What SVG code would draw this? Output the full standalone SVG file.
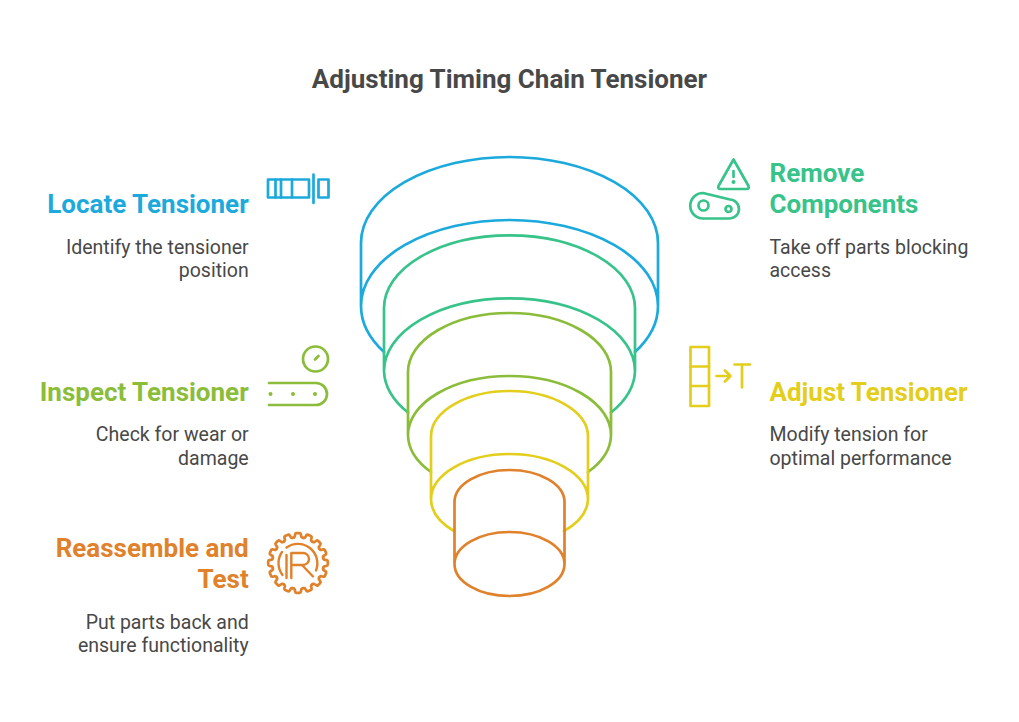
<svg xmlns="http://www.w3.org/2000/svg" width="1019" height="722" viewBox="0 0 1019 722">
<style>
text{font-family:Roboto,"Liberation Sans",sans-serif}
.t{font-size:26px;font-weight:700;fill:#484848;text-anchor:middle}
.h{font-size:26px;font-weight:700}
.b{font-size:19.5px;fill:#484848}
.l{fill:none;stroke-width:2.7;stroke-linecap:round;stroke-linejoin:round}
.i{fill:none;stroke-width:2.7;stroke-linecap:round;stroke-linejoin:round}
.blue{stroke:#1CA9DC}.green{stroke:#37C38A}.olive{stroke:#8BBD3A}.yellow{stroke:#E2CE1B}.orange{stroke:#E0812B}
.fblue{fill:#1CA9DC}.fgreen{fill:#37C38A}.folive{fill:#8BBD3A}.fyellow{fill:#E2CE1B}.forange{fill:#E0812B}
</style>
<defs>
<path id="tooth" d="M-4.97 -25.2 L-3.8 -25.6 Q-3.2 -25.9 -3.1 -27 L-2.9 -28.6 Q-2.7 -29.8 -1.6 -29.8 L1.6 -29.8 Q2.7 -29.8 2.9 -28.6 L3.1 -27 Q3.2 -25.900 3.8 -25.6 L4.97 -25.2"/>
</defs>
<text class="t" x="509.5" y="88">Adjusting Timing Chain Tensioner</text>
<g id="connectors">
<path class="l blue" d="M361 306V243A148.5 86 0 0 1 658 243V306M361 306A148.5 86 0 0 1 658 306M361 306A148.5 86 0 0 0 384 352M658 306A148.5 86 0 0 1 635 352"/>
<path class="l green" d="M384 371V308A125.5 72.7 0 0 1 635 308V371M384 371A125.5 72.7 0 0 1 635 371M384 371A125.5 72.7 0 0 0 408 412.5M635 371A125.5 72.7 0 0 1 611 412.5"/>
<path class="l olive" d="M408 435V372A101.5 59 0 0 1 611 372V435M408 435A101.5 59 0 0 1 611 435M408 435A101.5 59 0 0 0 431 472M611 435A101.5 59 0 0 1 588 472"/>
<path class="l yellow" d="M431 499.5V436.5A78.5 45.5 0 0 1 588 436.5V499.5M431 499.5A78.5 45.5 0 0 1 588 499.5M431 499.5A78.5 45.5 0 0 0 454 531M588 499.5A78.5 45.5 0 0 1 564 531"/>
<path class="l orange" d="M454.500 564V502A55 32 0 0 1 564.500 502V564M454.500 564A55 32 0 0 1 564.500 564A55 32 0 0 1 454.500 564"/>
</g>
<g id="node-locate">
<text class="h fblue" x="248.700" y="213" text-anchor="end">Locate Tensioner</text>
<text class="b" x="248.700" y="254" text-anchor="end">Identify the tensioner</text>
<text class="b" x="248.700" y="277" text-anchor="end">position</text>
<g class="i blue"><rect x="268" y="179.500" width="41" height="18"/><path d="M275.500 179.500V197.500M281 179.500V197.500M292 179.500V197.500M313.500 174.500V203"/><rect x="318.500" y="179.500" width="10" height="18"/></g>
</g>
<g id="node-remove">
<text class="h fgreen" x="769.500" y="182">Remove</text>
<text class="h fgreen" x="769.500" y="213">Components</text>
<text class="b" x="769.500" y="254">Take off parts blocking</text>
<text class="b" x="769.500" y="277">access</text>
<g class="i green"><path d="M733.500 159.500L748.500 186Q749.500 189 746.500 189H720.500Q717.500 189 718.500 186ZM733.500 171V177"/><path d="M703 193L730 199.500A9.500 9.500 0 0 1 729 218.500H703A12.750 12.750 0 0 1 703 193Z"/><circle cx="703.500" cy="205.500" r="5"/><circle cx="728.500" cy="209" r="3"/></g>
<circle class="fgreen" cx="733.500" cy="182" r="2"/>
</g>
<g id="node-inspect">
<text class="h folive" x="248.700" y="401" text-anchor="end">Inspect Tensioner</text>
<text class="b" x="248.700" y="441" text-anchor="end">Check for wear or</text>
<text class="b" x="248.700" y="465" text-anchor="end">damage</text>
<g class="i olive"><circle cx="315.500" cy="359" r="12.500"/><path d="M315 359.500L318.500 356"/><path d="M269 383H316A11 11 0 0 1 316 405H269"/></g>
<circle class="folive" cx="270.500" cy="394" r="2"/><circle class="folive" cx="293" cy="394" r="2"/><circle class="folive" cx="315" cy="394" r="2"/>
</g>
<g id="node-adjust">
<text class="h fyellow" x="769.500" y="401">Adjust Tensioner</text>
<text class="b" x="769.500" y="441">Modify tension for</text>
<text class="b" x="769.500" y="465">optimal performance</text>
<g class="i yellow"><rect x="690.500" y="347" width="18.500" height="59"/><path d="M690.500 366.500H709M690.500 386H709M716.500 376H730.500M725 370.500L730.500 376L725 381.500M734.500 364.500H750M742 364.500V387.500"/></g>
</g>
<g id="node-reassemble">
<text class="h forange" x="248.700" y="557" text-anchor="end">Reassemble and</text>
<text class="h forange" x="248.700" y="588" text-anchor="end">Test</text>
<text class="b" x="248.700" y="629" text-anchor="end">Put parts back and</text>
<text class="b" x="248.700" y="652" text-anchor="end">ensure functionality</text>
<g class="i orange" transform="translate(298 563)">
<use href="#tooth"/><use href="#tooth" transform="rotate(22.5)"/><use href="#tooth" transform="rotate(45)"/><use href="#tooth" transform="rotate(67.5)"/><use href="#tooth" transform="rotate(90)"/><use href="#tooth" transform="rotate(112.5)"/><use href="#tooth" transform="rotate(135)"/><use href="#tooth" transform="rotate(157.500)"/><use href="#tooth" transform="rotate(180)"/><use href="#tooth" transform="rotate(202.5)"/><use href="#tooth" transform="rotate(225)"/><use href="#tooth" transform="rotate(247.5)"/><use href="#tooth" transform="rotate(270)"/><use href="#tooth" transform="rotate(292.5)"/><use href="#tooth" transform="rotate(315)"/><use href="#tooth" transform="rotate(337.5)"/>
<path stroke-width="2.4" d="M-11.500 15V-8M-11.500 -15.500A19.500 19.500 0 0 1 18 7.500M-16 -11A19.500 19.500 0 0 0 -15.500 12"/>
<path stroke-width="2.400" d="M-6.700 15V-10H5A6 6 0 0 1 5 2H-6.700M4 2L15 13.500"/>
</g>
</g>
</svg>
